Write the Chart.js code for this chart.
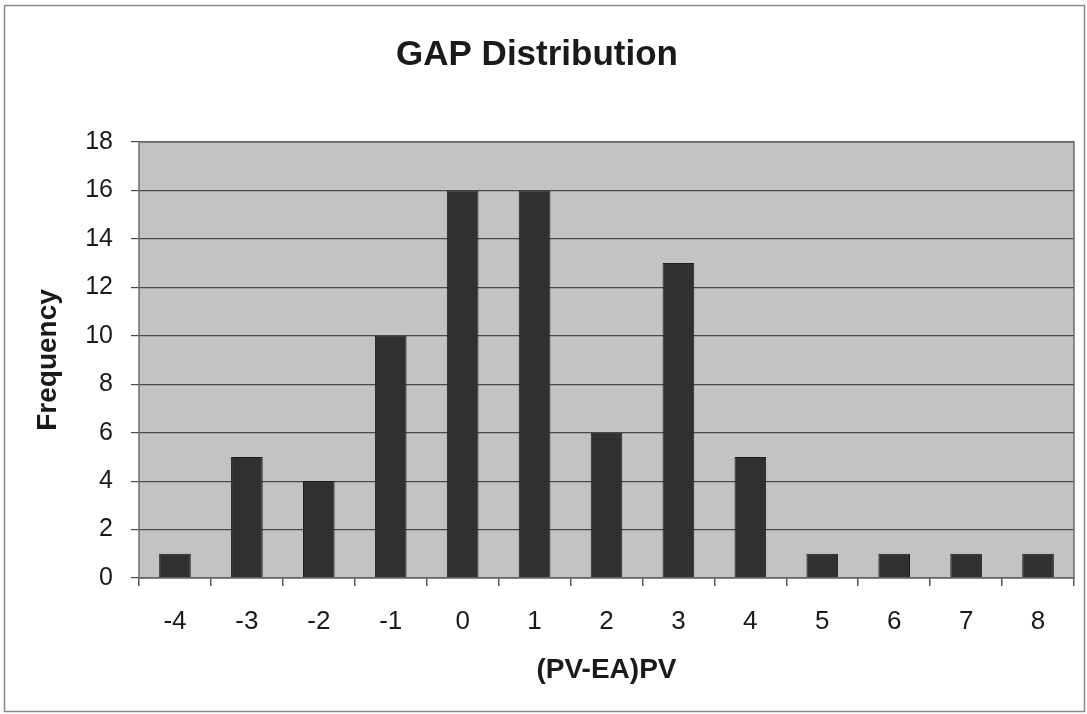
<!DOCTYPE html>
<html>
<head>
<meta charset="utf-8">
<script src="https://cdn.jsdelivr.net/npm/chart.js@4.4.1/dist/chart.umd.min.js"></script>
<style>
  html, body { margin: 0; padding: 0; background: #fff; }
  #wrap { width: 1087px; height: 714px; position: relative; }
</style>
</head>
<body>
<div id="wrap"><canvas id="chart"></canvas></div>
<script>
// GAP distribution histogram

const categories = ['-4', '-3', '-2', '-1', '0', '1', '2', '3', '4', '5', '6', '7', '8'];
const frequency = [1, 5, 4, 10, 16, 16, 6, 13, 5, 1, 1, 1, 1];
const yTicks = [0, 2, 4, 6, 8, 10, 12, 14, 16, 18];

const FONT = 'Arial, "Liberation Sans", sans-serif';

const plotFrame = {
  id: 'plotFrame',
  beforeDraw(chart) {
    const { ctx, chartArea: a } = chart;
    ctx.save();
    ctx.fillStyle = '#fff';
    ctx.fillRect(0, 0, chart.width, chart.height);
    ctx.strokeStyle = '#8a8a8a';
    ctx.lineWidth = 1.5;
    ctx.strokeRect(4.5, 5.5, chart.width - 7, chart.height - 8);
    ctx.fillStyle = '#c3c3c3';
    ctx.fillRect(a.left, a.top, a.right - a.left, a.bottom - a.top);
    ctx.restore();
  },
  afterDatasetsDraw(chart) {
    const { ctx, chartArea: a } = chart;
    ctx.save();
    ctx.strokeStyle = '#6e6e6e';
    ctx.lineWidth = 1.5;
    ctx.strokeRect(a.left, a.top, a.right - a.left, a.bottom - a.top);
    ctx.restore();
  },
};

new Chart(document.getElementById('chart'), {
  type: 'bar',
  data: {
    labels: categories,
    datasets: [{
      data: frequency,
      backgroundColor: '#303030',
      borderColor: '#1e1e1e',
      borderWidth: 1,
      barPercentage: 0.44,
      categoryPercentage: 1,
    }],
  },
  options: {
    responsive: true,
    maintainAspectRatio: false,
    animation: false,
    layout: { padding: { left: 0, right: 13, top: 0, bottom: 0 } },
    plugins: {
      legend: { display: false },
      tooltip: { enabled: false },
      title: {
        display: true,
        text: 'GAP Distribution',
        color: '#1a1a1a',
        font: { family: FONT, size: 35, weight: 'bold', lineHeight: 1.2 },
        padding: { top: 34, bottom: 66 },
      },
    },
    scales: {
      x: {
        grid: {
          offset: true,
          drawOnChartArea: false,
          drawTicks: true,
          tickLength: 8,
          color: '#555',
          lineWidth: 1.5,
        },
        border: { display: false },
        ticks: { color: '#1a1a1a', font: { family: FONT, size: 26 }, padding: 20, maxRotation: 0 },
        title: {
          display: true,
          text: '(PV-EA)PV',
          color: '#1a1a1a',
          font: { family: FONT, size: 28, weight: 'bold', lineHeight: 1.2 },
          padding: { top: 0, bottom: 27 },
        },
        afterFit(axis) { axis.height = 136; },
      },
      y: {
        min: 0,
        max: 18,
        afterBuildTicks(axis) { axis.ticks = yTicks.map((v) => ({ value: v })); },
        grid: { color: '#4a4a4a', lineWidth: 1.2, tickLength: 8, drawTicks: true },
        border: { display: false },
        ticks: { color: '#1a1a1a', font: { family: FONT, size: 25 }, padding: 18 },
        title: {
          display: true,
          text: 'Frequency',
          color: '#1a1a1a',
          font: { family: FONT, size: 28, weight: 'bold', lineHeight: 1.2 },
          padding: { top: 31, bottom: 0 },
        },
        afterFit(axis) { axis.width = 139; },
      },
    },
  },
  plugins: [plotFrame],
});
</script>
</body>
</html>
